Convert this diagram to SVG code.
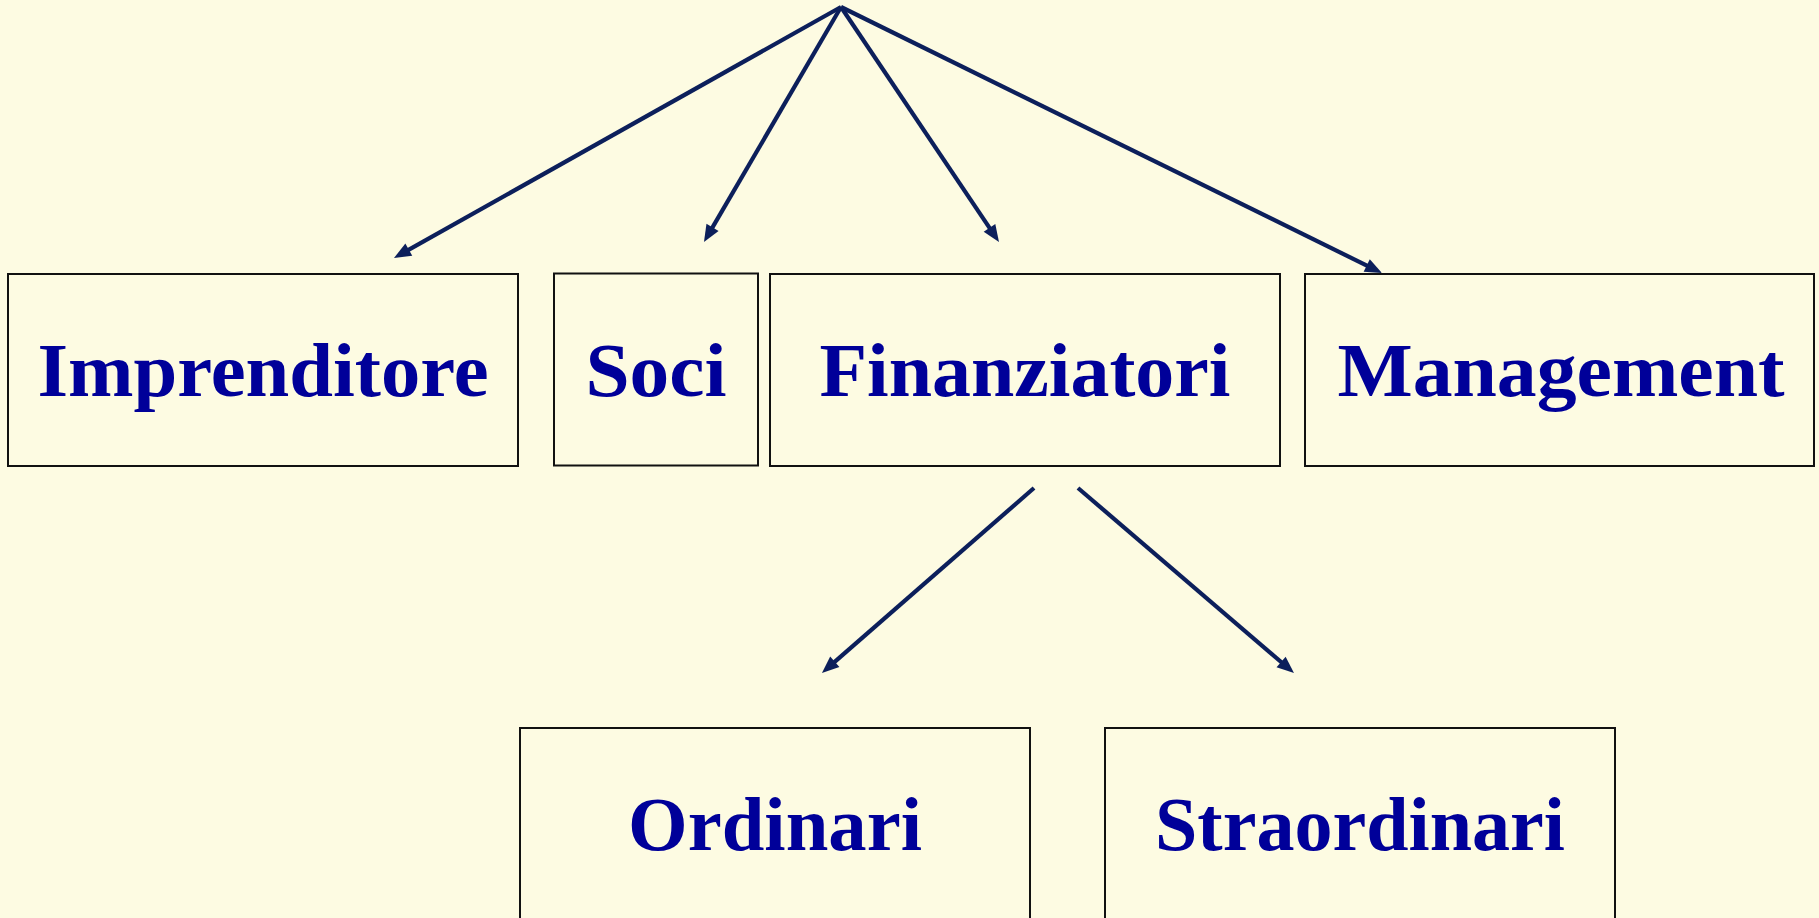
<svg xmlns="http://www.w3.org/2000/svg" width="1819" height="918" viewBox="0 0 1819 918">
  <style>
    .box { fill: #FDFBE2; stroke: #111111; stroke-width: 2; }
    .lbl { font-family: "Liberation Serif", "Times New Roman", serif; font-weight: bold; font-size: 76px; fill: #000099; text-anchor: middle; }
    .conn line { stroke: #0C1F5B; stroke-width: 4.2; fill: none; marker-end: url(#arrow); }
  </style>
  <defs>
    <marker id="arrow" markerUnits="userSpaceOnUse" viewBox="-1 -9 20 18" markerWidth="20" markerHeight="18" refX="7" refY="0" orient="auto">
      <path d="M0,-7 L17,0 L0,7 Z" fill="#0C1F5B"/>
    </marker>
  </defs>
  <rect x="0" y="0" width="1819" height="918" fill="#FDFBE2"/>

  <g id="node-imprenditore">
    <rect class="box" x="8" y="274" width="510" height="192"/>
    <text class="lbl" x="263" y="395.5" textLength="451" lengthAdjust="spacingAndGlyphs">Imprenditore</text>
  </g>
  <g id="node-soci">
    <rect class="box" x="554" y="273.5" width="204" height="192"/>
    <text class="lbl" x="656" y="395.5" textLength="141" lengthAdjust="spacingAndGlyphs">Soci</text>
  </g>
  <g id="node-finanziatori">
    <rect class="box" x="770" y="274" width="510" height="192"/>
    <text class="lbl" x="1025" y="395.5" textLength="411" lengthAdjust="spacingAndGlyphs">Finanziatori</text>
  </g>
  <g id="node-management">
    <rect class="box" x="1305" y="274" width="509" height="192"/>
    <text class="lbl" x="1561" y="395.5" textLength="447" lengthAdjust="spacingAndGlyphs">Management</text>
  </g>
  <g id="node-ordinari">
    <rect class="box" x="520" y="728" width="510" height="200"/>
    <text class="lbl" x="775" y="849.5" textLength="294" lengthAdjust="spacingAndGlyphs">Ordinari</text>
  </g>
  <g id="node-straordinari">
    <rect class="box" x="1105" y="728" width="510" height="200"/>
    <text class="lbl" x="1360" y="849.5" textLength="410" lengthAdjust="spacingAndGlyphs">Straordinari</text>
  </g>

  <g id="connectors" class="conn">
    <line x1="841" y1="7" x2="402.7" y2="253.1"/>
    <line x1="841" y1="7" x2="709.0" y2="233.4"/>
    <line x1="841" y1="7" x2="993.4" y2="233.7"/>
    <line x1="841" y1="7" x2="1373.0" y2="268.6"/>
    <line x1="1034" y1="488" x2="829.5" y2="666.4"/>
    <line x1="1078" y1="488" x2="1286.4" y2="666.5"/>
  </g>
</svg>
